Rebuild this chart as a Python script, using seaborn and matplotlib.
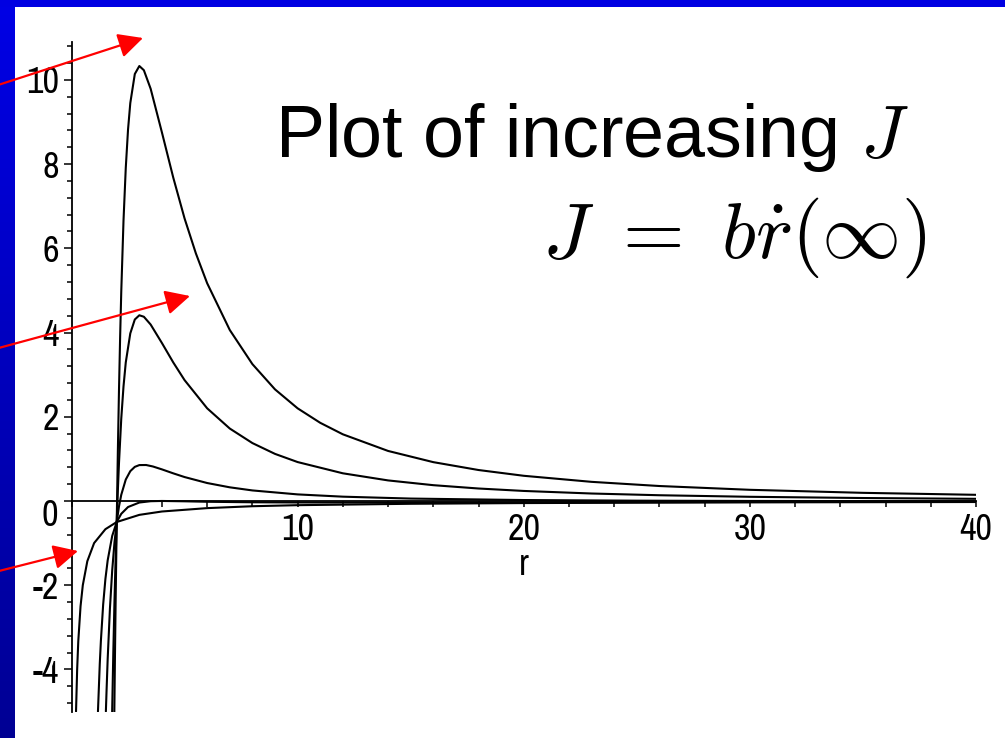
import numpy as np
import pandas as pd
import seaborn as sns
import matplotlib
matplotlib.use("Agg")
import matplotlib.pyplot as plt
from matplotlib import font_manager
from matplotlib.font_manager import FontProperties
from matplotlib.patches import Rectangle, FancyArrowPatch, ArrowStyle
from matplotlib.ticker import MultipleLocator, FixedLocator

# ---------------- data ----------------
# curve for J = 0
r_j0 = [0.2, 0.25, 0.3, 0.4, 0.5, 0.7, 1.0, 1.5, 2.0, 3.0, 4.0, 6.0, 8.0, 10.0, 15.0, 20.0, 30.0, 40.0]
v_j0 = [-5.0, -4.0, -3.33, -2.5, -2.0, -1.43, -1.0, -0.67, -0.5, -0.33, -0.25, -0.17, -0.125, -0.1,
        -0.067, -0.05, -0.033, -0.025]

# curve for small J (hugs the axis)
r_j4 = [1.17, 1.25, 1.3, 1.4, 1.5, 1.6, 1.8, 2.0, 2.2, 2.5, 3.0, 3.5, 4.0, 5.0, 6.0, 8.0, 10.0, 12.0,
        15.0, 20.0, 25.0, 30.0, 40.0]
v_j4 = [-5.0, -3.87, -3.32, -2.46, -1.85, -1.41, -0.83, -0.5, -0.305, -0.144, -0.037, -0.006, 0.0,
        -0.008, -0.019, -0.031, -0.036, -0.037, -0.036, -0.032, -0.028, -0.025, -0.020]

# curve with peak ~0.85
r_j8 = [1.52, 1.55, 1.6, 1.7, 1.8, 1.9, 2.0, 2.1, 2.2, 2.4, 2.6, 2.8, 3.0, 3.3, 3.6, 4.0, 4.5, 5.0,
        6.0, 7.0, 8.0, 10.0, 12.0, 15.0, 20.0, 25.0, 30.0, 40.0]
v_j8 = [-5.0, -4.51, -3.75, -2.55, -1.65, -0.99, -0.5, -0.131, 0.146, 0.509, 0.708, 0.81, 0.852, 0.854,
        0.819, 0.75, 0.656, 0.568, 0.426, 0.324, 0.25, 0.156, 0.102, 0.057, 0.022, 0.007, 0.0, -0.006]

# curve with peak ~4.4
r_j16 = [1.79, 1.8, 1.85, 1.9, 1.95, 2.0, 2.05, 2.1, 2.2, 2.3, 2.4, 2.6, 2.8, 3.0, 3.2, 3.5, 4.0, 4.5,
         5.0, 6.0, 7.0, 8.0, 9.0, 10.0, 12.0, 14.0, 16.0, 18.0, 20.0, 23.0, 26.0, 30.0, 35.0, 40.0]
v_j16 = [-5.25, -4.94, -3.57, -2.39, -1.38, -0.5, 0.25, 0.9, 1.95, 2.72, 3.29, 3.98, 4.31, 4.41, 4.375,
         4.19, 3.75, 3.29, 2.87, 2.2, 1.72, 1.375, 1.118, 0.924, 0.657, 0.488, 0.375, 0.296, 0.238,
         0.177, 0.136, 0.099, 0.07, 0.051]

# curve with peak ~10.3
r_j24 = [1.89, 1.895, 1.92, 1.95, 2.0, 2.05, 2.1, 2.15, 2.2, 2.3, 2.4, 2.5, 2.6, 2.8, 3.0, 3.2, 3.5, 4.0,
         4.5, 5.0, 5.5, 6.0, 7.0, 8.0, 9.0, 10.0, 11.0, 12.0, 14.0, 16.0, 18.0, 20.0, 23.0, 26.0, 30.0,
         35.0, 40.0]
v_j24 = [-5.23, -4.97, -3.77, -2.45, -0.5, 1.18, 2.63, 3.88, 4.96, 6.66, 7.91, 8.82, 9.45, 10.14, 10.33,
         10.23, 9.79, 8.75, 7.68, 6.71, 5.88, 5.17, 4.06, 3.25, 2.65, 2.2, 1.856, 1.583, 1.188, 0.922,
         0.735, 0.598, 0.454, 0.355, 0.265, 0.193, 0.146]

x_major = [10, 20, 30, 40]
x_labels = ["10", "20", "30", "40"]
y_major = [-4, -2, 0, 2, 4, 6, 8, 10]
y_labels = ["-4", "-2", "", "2", "4", "6", "8", "10"]
zero_label = "0"
x_axis_label = "r"
title_text = "Plot of increasing $J$"
formula_text = r"$J\ =\ b\dot{r}(\infty)$"

# ---------------- styling ----------------
sns.set_theme(style="white")
plt.rcParams["axes.unicode_minus"] = False
plt.rcParams["mathtext.fontset"] = "cm"


def has_font(name):
    try:
        font_manager.findfont(FontProperties(family=name), fallback_to_default=False)
        return True
    except Exception:
        return False


def pick_narrow():
    entries = font_manager.fontManager.ttflist
    for e in entries:
        if e.name == "Liberation Sans Narrow" and e.style == "normal" and e.weight in (400, "normal"):
            return FontProperties(fname=e.fname), 26
    for e in entries:
        if ("Narrow" in e.name or "Condensed" in e.name) and e.style == "normal":
            return FontProperties(fname=e.fname), 26
    for e in entries:
        if e.stretch in ("condensed", "semi-condensed", "extra-condensed") and e.style == "normal" \
                and e.weight in (400, "normal"):
            return FontProperties(fname=e.fname), 26
    fam = "Liberation Sans" if has_font("Liberation Sans") else "DejaVu Sans"
    return FontProperties(family=fam), 22


tick_fp, tick_size = pick_narrow()
title_family = "Liberation Sans" if has_font("Liberation Sans") else "DejaVu Sans"

W, H = 1005, 738
fig = plt.figure(figsize=(W / 100, H / 100), dpi=100, facecolor="white")

def fx(px):
    return px / W

def fy(py):
    return 1 - py / H

# blue slide border
bg = fig.add_axes([0, 0, 14 / W, 1])
grad = np.linspace(0, 1, 256).reshape(-1, 1)
top_c = np.array([0.0, 0.0, 0.90])
bot_c = np.array([0.0, 0.0, 0.58])
img = top_c[None, None, :] * (1 - grad[:, :, None]) + bot_c[None, None, :] * grad[:, :, None]
bg.imshow(img, aspect="auto", extent=[0, 1, 0, 1])
bg.set_axis_off()
fig.add_artist(Rectangle((0, fy(7)), 1, 7 / H, transform=fig.transFigure,
                         facecolor="#0000E2", edgecolor="none", zorder=1))

# main axes
x0, x40 = 71.5, 976.0
ytop, ybot = 42.0, 711.5
ax = fig.add_axes([fx(x0), fy(ybot), fx(x40) - fx(x0), fy(ytop) - fy(ybot)])
ax.set_facecolor("none")

frames = []
for name, rr, vv in [("J0", r_j0, v_j0), ("J4", r_j4, v_j4), ("J8", r_j8, v_j8),
                     ("J16", r_j16, v_j16), ("J24", r_j24, v_j24)]:
    frames.append(pd.DataFrame({"r": rr, "v": vv, "curve": name}))
df = pd.concat(frames, ignore_index=True)

sns.lineplot(data=df, x="r", y="v", units="curve", estimator=None, sort=False,
             color="black", linewidth=1.5, ax=ax, legend=False)

ax.set_xlim(0, 40)
ax.set_ylim(-5, 10.9)
ax.set_xlabel("")
ax.set_ylabel("")

for s in ["top", "right"]:
    ax.spines[s].set_visible(False)
ax.spines["left"].set_position(("data", 0))
ax.spines["bottom"].set_position(("data", 0))
for s in ["left", "bottom"]:
    ax.spines[s].set_color("black")
    ax.spines[s].set_linewidth(1.3)
    ax.spines[s].set_zorder(1)

ax.xaxis.set_major_locator(FixedLocator(x_major))
ax.set_xticklabels(x_labels)
ax.xaxis.set_minor_locator(MultipleLocator(2))
ax.yaxis.set_major_locator(FixedLocator(y_major))
ax.set_yticklabels(y_labels)
ax.yaxis.set_minor_locator(MultipleLocator(0.4))

ax.tick_params(axis="x", which="both", direction="out", length=4, width=1.1, color="black",
               bottom=True, pad=5)
ax.tick_params(axis="y", which="major", direction="out", length=6, width=1.1, color="black",
               left=True, pad=3)
ax.tick_params(axis="y", which="minor", direction="out", length=3.5, width=1.1, color="black",
               left=True)
for lab in ax.get_xticklabels() + ax.get_yticklabels():
    lab.set_fontproperties(tick_fp)
    lab.set_fontsize(tick_size)
    lab.set_color("black")

ax.annotate(zero_label, xy=(0, 0), xytext=(-14, -15), textcoords="offset pixels",
            ha="right", va="center", fontproperties=tick_fp, fontsize=tick_size, color="black")
ax.text(20, -1.5, x_axis_label, ha="center", va="center", fontproperties=tick_fp,
        fontsize=tick_size, color="black")

# headline texts
fig.text(fx(275), fy(157), title_text, fontsize=53, family=title_family,
         ha="left", va="baseline", color="black")
fig.text(fx(926), fy(258), formula_text, fontsize=57, ha="right", va="baseline", color="black")

# red arrows
style = ArrowStyle("-|>", head_length=1.0, head_width=0.5)
for (xa, ya), (xb, yb) in [((-5, 86), (143, 38)), ((-5, 349), (190, 296)), ((-5, 572), (78, 551))]:
    fig.add_artist(FancyArrowPatch((fx(xa), fy(ya)), (fx(xb), fy(yb)), transform=fig.transFigure,
                                   arrowstyle=style, mutation_scale=15, color="#FF0000",
                                   linewidth=1.6, shrinkA=0, shrinkB=0, zorder=10))

fig.savefig("out.png", dpi=100, facecolor="white")
